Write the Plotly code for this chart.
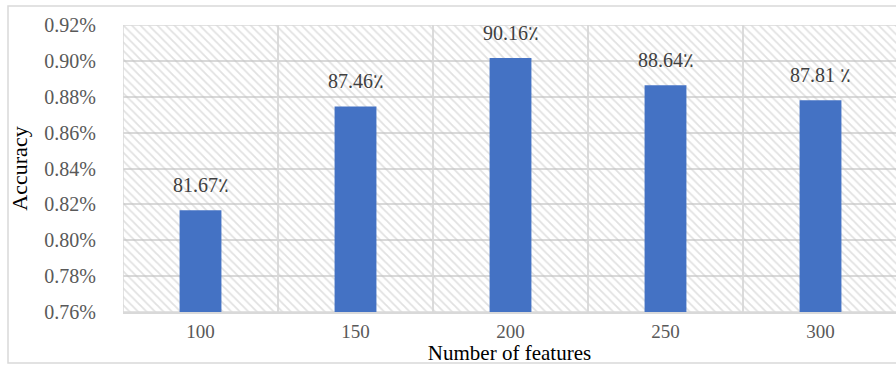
import plotly.graph_objects as go

categories = ["100", "150", "200", "250", "300"]
accuracy = [0.8167, 0.8746, 0.9016, 0.8864, 0.8781]
bar_labels = ["81.67٪", "87.46٪", "90.16٪", "88.64٪", "87.81 ٪"]
y_ticks = [0.76, 0.78, 0.80, 0.82, 0.84, 0.86, 0.88, 0.90, 0.92]
y_tick_text = [f"{v:.2f}%" for v in y_ticks]

Y_MIN, Y_MAX = y_ticks[0], y_ticks[-1]
FONT = "Liberation Serif"
GRID = "#d9d9d9"

W, H = 896, 365
ML, MR, MT, MB = 123, 0, 25, 53
pw, ph = W - ML - MR, H - MT - MB

fig = go.Figure()

# hatched plot background (one cell per category)
fig.add_trace(go.Bar(
    x=categories,
    y=[Y_MAX - Y_MIN] * len(categories),
    base=Y_MIN,
    width=1,
    marker=dict(
        color="rgba(0,0,0,0)",
        line=dict(color=GRID, width=1.5),
        pattern=dict(shape="\\", fgcolor="#c4c4c4", size=6, solidity=0.3),
    ),
    hoverinfo="skip",
    showlegend=False,
))

fig.add_trace(go.Bar(
    x=categories,
    y=accuracy,
    width=0.27,
    marker=dict(color="#4472C4", line=dict(width=0)),
    showlegend=False,
))

for i, (v, t) in enumerate(zip(accuracy, bar_labels)):
    fig.add_annotation(
        x=i, y=v, xref="x", yref="y", text=t, showarrow=False,
        yanchor="bottom", yshift=12,
        font=dict(family=FONT, size=20, color="#404040"),
    )

# outer chart border
fig.add_shape(
    type="rect", xref="paper", yref="paper",
    x0=(8 - ML) / pw, x1=(W + 10 - ML) / pw,
    y0=-(363 - MT - ph) / ph, y1=(H - MB - 6) / ph,
    line=dict(color=GRID, width=1.5), fillcolor="rgba(0,0,0,0)", layer="below",
)

fig.update_layout(
    width=W, height=H,
    margin=dict(l=ML, r=MR, t=MT, b=MB),
    barmode="overlay",
    plot_bgcolor="white", paper_bgcolor="white",
    font=dict(family=FONT, size=19, color="#595959"),
    showlegend=False,
)

fig.update_xaxes(
    type="category",
    range=[-0.5, 4.5 - 2 / 155],
    showgrid=False,
    showline=True, linecolor=GRID, linewidth=1.5,
    ticks="", ticklabelstandoff=1,
    tickfont=dict(family=FONT, size=19, color="#595959"),
    title=dict(text="Number of features", font=dict(family=FONT, size=21, color="black"), standoff=0),
    fixedrange=True,
)

fig.update_yaxes(
    range=[Y_MIN, Y_MAX],
    tickvals=y_ticks,
    ticktext=y_tick_text,
    showgrid=True, gridcolor=GRID, gridwidth=1.5,
    zeroline=False, showline=False,
    ticks="", ticklabelstandoff=26,
    tickfont=dict(family=FONT, size=20, color="#595959"),
    title=dict(text="Accuracy", font=dict(family=FONT, size=22, color="black"), standoff=10),
    fixedrange=True,
)

fig.write_html("out.html")
